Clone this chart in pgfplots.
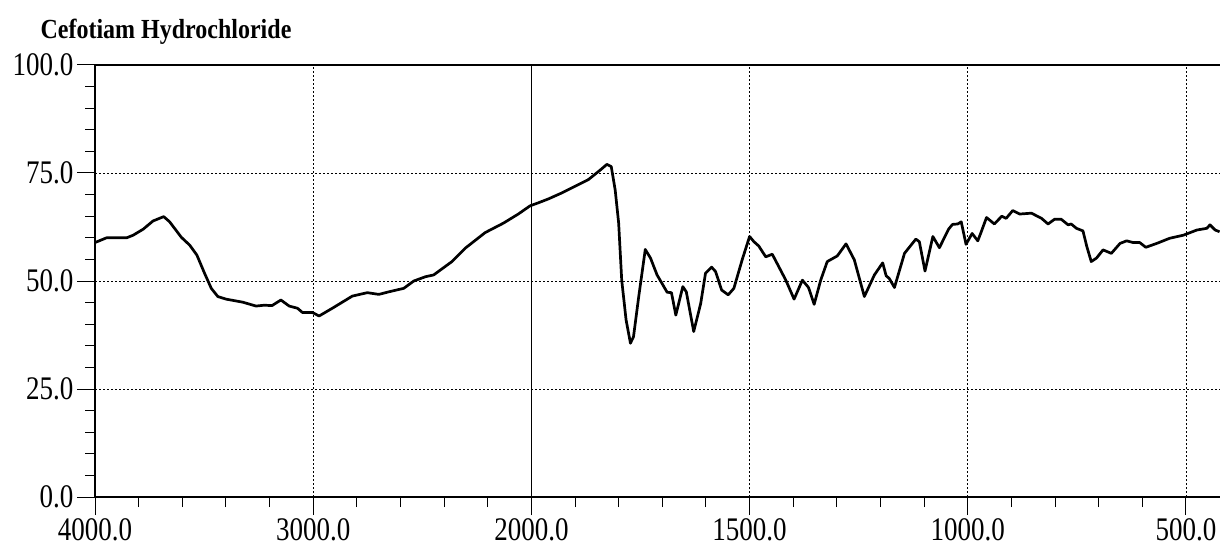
\documentclass[border=0pt]{standalone}
\usepackage{graphicx}
\usepackage{pgfplots}
\pgfplotsset{compat=1.18}
\usepackage{fontspec}
\setmainfont{Liberation Serif}
\newcommand{\tl}[1]{\scalebox{1}[1.22]{#1}}
\begin{document}
\begin{tikzpicture}
\begin{axis}[
  name=ax,
  scale only axis,
  width=1125pt, height=432pt,
  xmin=0, xmax=5.156, ymin=0, ymax=100,
  axis lines=left,
  axis line style={-, line width=1.2pt},
  tick align=outside,
  tick style={black, line width=1pt},
  major tick length=18pt,
  minor tick length=10pt,
  xtick={0,1,2,3,4,5},
  xticklabels={\tl{4000.0},\tl{3000.0},\tl{2000.0},\tl{1500.0},\tl{1000.0},\tl{500.0}},
  minor x tick num=4,
  ytick={0,25,50,75,100},
  yticklabels={\tl{0.0},\tl{25.0},\tl{50.0},\tl{75.0},\tl{100.0}},
  minor y tick num=4,
  grid=major,
  major grid style={black, line width=0.8pt, dash pattern=on 2pt off 2pt},
  extra x ticks={2},
  extra x tick labels={},
  extra x tick style={grid=major, major grid style={black, solid, line width=1pt}},
  extra y ticks={100},
  extra y tick labels={},
  extra y tick style={grid=major, major grid style={black, solid, line width=1.2pt}},
  ticklabel style={font=\fontsize{27}{30}\selectfont, black},
  title={\scalebox{1}[1.15]{\textbf{Cefotiam Hydrochloride}}},
  title style={font=\fontsize{24}{28}\selectfont, at={(0,1)}, anchor=base west, xshift=-58pt, yshift=20pt},
  x filter/.expression={x>=2000 ? (4000-x)/1000 : 2+(2000-x)/500},
  clip=true,
]
\addplot[black, line width=2.7pt, line join=round] coordinates {
(4000,58.9) (3947,60.0) (3855,60.0) (3825,60.6) (3779,62.0) (3734,63.9)
(3685,64.9) (3658,63.7) (3604,60.1) (3566,58.3) (3533,56.0) (3498,51.8)
(3467,48.3) (3437,46.4) (3399,45.8) (3323,45.1) (3262,44.2) (3224,44.4)
(3189,44.3) (3148,45.6) (3110,44.2) (3072,43.7) (3049,42.7) (3003,42.7)
(2973,41.9) (2912,43.7) (2821,46.5) (2752,47.3) (2699,46.9) (2653,47.5)
(2585,48.3) (2539,50.0) (2485,51.0) (2448,51.4) (2364,54.5) (2303,57.6)
(2212,61.2) (2128,63.4) (2060,65.5) (2006,67.4)
(1984,68.1) (1961,69.0) (1930,70.4) (1869,73.5) (1842,75.7) (1827,77.0)
(1817,76.5) (1808,71.1) (1800,63.4) (1793,50.2) (1783,41.0) (1773,35.6)
(1766,37.1) (1754,46.4) (1739,57.3) (1727,55.3) (1712,51.4) (1701,49.5)
(1689,47.4) (1679,47.3) (1669,42.1) (1653,48.7) (1645,47.5) (1628,38.3)
(1612,44.8) (1601,51.8) (1587,53.2) (1578,52.2) (1564,47.9) (1549,46.8)
(1536,48.3) (1517,54.9) (1500,60.3) (1490,59.1) (1479,58.1) (1463,55.6)
(1448,56.2) (1433,53.3) (1417,50.2) (1398,45.8) (1379,50.2) (1365,48.5)
(1352,44.6) (1337,50.2) (1322,54.5) (1299,55.8) (1279,58.6) (1260,54.9)
(1237,46.4) (1214,51.4) (1195,54.2) (1187,51.2) (1180,50.6) (1168,48.5)
(1145,56.4) (1119,59.7) (1111,59.1) (1098,52.3) (1080,60.3) (1065,57.7)
(1044,62.0) (1035,63.1) (1023,63.2) (1015,63.7) (1004,58.5) (990,61.0)
(977,59.3) (969,61.4) (957,64.7) (939,63.2) (922,65.0) (912,64.5)
(897,66.3) (881,65.5) (854,65.7) (831,64.5) (816,63.2) (801,64.3)
(786,64.3) (770,63.0) (763,63.2) (751,62.2) (736,61.6) (727,57.9)
(717,54.5) (705,55.3) (690,57.2) (671,56.4) (651,58.7) (636,59.3)
(621,58.9) (606,58.9) (592,57.8) (567,58.7) (537,59.9) (506,60.6)
(475,61.8) (452,62.2) (445,63.0) (433,61.8) (423,61.4)
};
\end{axis}
\pgfresetboundingbox
\path ([xshift=-95pt,yshift=-51pt]ax.south west) rectangle ([yshift=65pt]ax.north east);
\end{tikzpicture}
\end{document}
